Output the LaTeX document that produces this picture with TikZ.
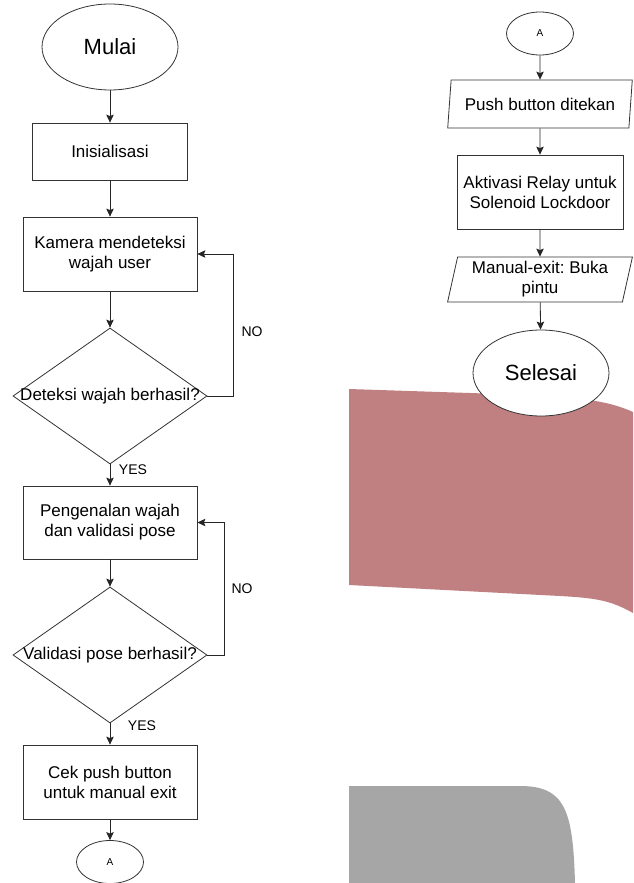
\documentclass[tikz,border=0pt]{standalone}
\usepackage{fontspec}
\setmainfont{Liberation Sans}
\usetikzlibrary{shapes.geometric,arrows.meta}
\frenchspacing

\definecolor{bandred}{RGB}{192,128,130}
\definecolor{bandgray}{RGB}{166,166,166}

\begin{document}
\begin{tikzpicture}[x=1pt,y=-1pt,
    every node/.style={font=\fontsize{17}{20}\selectfont, align=center, text=black},
    process/.style={rectangle, draw=black!80, line width=0.8pt, fill=white, inner sep=0pt, minimum height=74pt},
    decision/.style={diamond, draw=black!80, line width=0.8pt, fill=white, inner sep=0pt, minimum width=194pt, minimum height=136pt},
    terminal/.style={ellipse, draw=black!80, line width=0.8pt, fill=white, inner sep=0pt, minimum width=136pt, minimum height=86pt, font=\fontsize{22}{26}\selectfont},
    offpage/.style={ellipse, draw=black!80, line width=0.8pt, fill=white, inner sep=0pt, minimum width=67pt, minimum height=43pt, font=\fontsize{10}{12}\selectfont},
    io/.style={trapezium, trapezium left angle=77, trapezium right angle=103, trapezium stretches=true, draw=black!80, line width=0.8pt, fill=white, inner sep=0pt, minimum width=185pt},
    flow/.style={draw=black!85, line width=0.8pt, -{Stealth[length=8pt,width=7.5pt,inset=1.5pt]}},
    answer/.style={font=\fontsize{14}{16}\selectfont}]

  \useasboundingbox (0,0) rectangle (633,883);
  \fill[white] (0,0) rectangle (633,883);
  \clip (0,0) rectangle (633,883);

  % background bands
  \fill[bandred] (349,389) -- (470,393) .. controls (560,396) and (600,397) .. (633,412)
    -- (633,613) .. controls (610,600) and (595,598) .. (560,596) -- (349,585) -- cycle;
  \fill[bandgray] (349,883) -- (349,786) -- (520,786) .. controls (565,786) and (573,810) .. (575,883) -- cycle;

  % left column
  \node[terminal] (mulai) at (110,47) {Mulai};
  \node[process, minimum width=155pt, minimum height=57pt] (init) at (110,151.5) {Inisialisasi};
  \node[process, minimum width=174pt] (kamera) at (110,254) {Kamera mendeteksi\\wajah user};
  \node[decision, label=center:{Deteksi wajah berhasil?}] (cek1) at (110,396) {};
  \node[process, minimum width=174pt, minimum height=73pt] (kenal) at (110,522.5) {Pengenalan wajah\\dan validasi pose};
  \node[decision, label=center:{Validasi pose berhasil?}] (cek2) at (110,655) {};
  \node[process, minimum width=174pt] (tombol) at (110,782) {Cek push button\\untuk manual exit};
  \node[offpage] (outA) at (110,862) {A};

  \coordinate (loop1) at (233,254);
  \coordinate (loop2) at (224,522.5);

  \draw[flow] (mulai) -- (init);
  \draw[flow] (init) -- (kamera);
  \draw[flow] (kamera) -- (cek1);
  \draw[flow] (cek1.east) -| (loop1) -- (kamera.east);
  \draw[flow] (cek1) -- (kenal);
  \draw[flow] (kenal) -- (cek2);
  \draw[flow] (cek2.east) -| (loop2) -- (kenal.east);
  \draw[flow] (cek2) -- (tombol);
  \draw[flow] (tombol) -- (outA);

  \node[answer] (no1) at (252,332) {NO};
  \node[answer] (yes1) at (133,470) {YES};
  \node[answer] (no2) at (242,589) {NO};
  \node[answer] (yes2) at (142,726) {YES};

  % right column
  \node[offpage] (inA) at (540,33.5) {A};
  \node[io, minimum height=48pt] (tekan) at (540,104) {Push button ditekan};
  \node[process, minimum width=166pt] (relay) at (540,192) {Aktivasi Relay untuk\\Solenoid Lockdoor};
  \node[io, minimum height=45pt] (buka) at (540,279.5) {Manual-exit: Buka\\pintu};
  \node[terminal] (selesai) at (541,373) {Selesai};

  \draw[flow] (inA) -- (tekan);
  \draw[flow] (tekan) -- (relay);
  \draw[flow] (relay) -- (buka);
  \draw[flow] (buka) -- (selesai);
\end{tikzpicture}
\end{document}
